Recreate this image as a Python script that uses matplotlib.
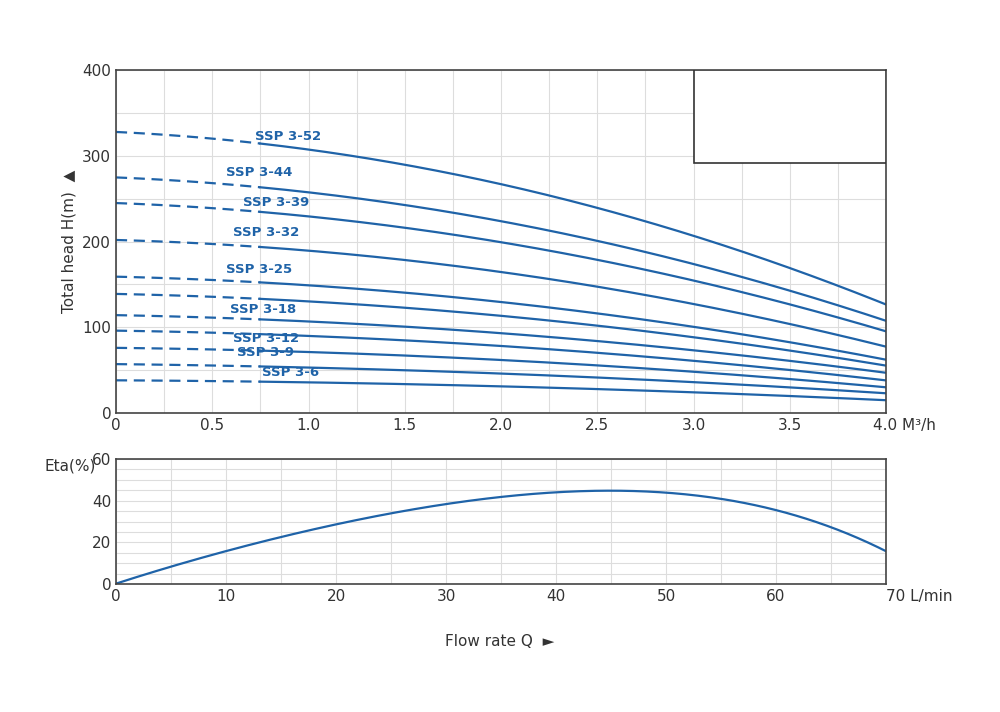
import numpy as np
import matplotlib
matplotlib.use("Agg")
import matplotlib.pyplot as plt

models = ["SSP 3-52","SSP 3-44","SSP 3-39","SSP 3-32","SSP 3-25","SSP 3-22","SSP 3-18","SSP 3-15","SSP 3-12","SSP 3-9","SSP 3-6"]
show_label = [True,True,True,True,True,False,True,False,True,True,True]
q_pts = [0.0, 1.0, 2.0, 3.0, 4.0]
heads = [
    [328, 307, 266, 208, 126],
    [275, 257, 223, 175, 107],
    [245, 229, 199, 155, 95],
    [202, 189, 164, 128, 77],
    [159, 149, 129, 101, 62],
    [139, 130, 113, 89, 55],
    [114, 107, 93, 73, 47],
    [96, 90, 78, 61, 38],
    [76, 71, 62, 48, 30],
    [57, 53, 46, 36, 23],
    [38, 36, 31, 24, 15],
]
label_x = [0.72,0.57,0.66,0.61,0.57,None,0.59,None,0.61,0.63,0.76]
label_y = [322,281,245,211,167,None,121,None,87,70,47]
eta_q = [0, 5, 10, 20, 30, 40, 46, 50, 55, 60, 65, 70]
eta = [0, 8.5, 16, 28.5, 38, 44, 45, 44.2, 41, 35, 27, 16]

blue = "#1f63a8"
fig = plt.figure(figsize=(10, 7.12), dpi=100)
ax = fig.add_axes([0.116, 1-413/712, 0.77, 343/712])
ax2 = fig.add_axes([0.116, 1-584/712, 0.77, 125/712])

for i, h in enumerate(heads):
    c = np.polyfit(q_pts, h, 2)
    qd = np.linspace(0, 0.75, 30); qs = np.linspace(0.75, 4.0, 200)
    ax.plot(qd, np.polyval(c, qd), color=blue, lw=1.6, ls=(0, (5, 3)))
    ax.plot(qs, np.polyval(c, qs), color=blue, lw=1.6)
    if show_label[i]:
        ax.text(label_x[i], label_y[i], models[i], color=blue, fontsize=9.5,
                fontweight="bold", va="center", ha="left")

ax.set_xlim(0, 4); ax.set_ylim(0, 400)
ax.set_xticks(np.arange(0, 4.01, 0.25), minor=True)
ax.set_yticks(np.arange(0, 401, 50), minor=True)
ax.set_xticks(np.arange(0, 4.01, 0.5))
ax.set_xticklabels(["0","0.5","1.0","1.5","2.0","2.5","3.0","3.5","4.0 M³/h"])
ax.set_yticks([0,100,200,300,400])
ax.grid(which="both", color="#dddddd", lw=0.8)
ax.set_axisbelow(True)
ax.tick_params(which="both", length=0, labelsize=11, colors="#333333")
ax.add_patch(plt.Rectangle((3.0, 292), 1.0, 108, facecolor="white", edgecolor="#333333", lw=1.2, zorder=5))
ax.set_ylabel("Total head H(m)  ▲", fontsize=11, color="#333333")
for s in ax.spines.values(): s.set_color("#444444"); s.set_linewidth(1.2)
# the "4.0 M³/h" label: shift so number sits at tick
for lbl in ax.get_xticklabels():
    if "M" in lbl.get_text():
        lbl.set_horizontalalignment("left")
        lbl.set_x(0)
import matplotlib.transforms as mt
labs = ax.get_xticklabels()
labs[-1].set_transform(labs[-1].get_transform() + mt.ScaledTranslation(-0.13, 0, fig.dpi_scale_trans))

c2 = np.polyfit(eta_q, eta, 4)
qq = np.linspace(0, 70, 300)
ax2.plot(qq, np.polyval(c2, qq), color=blue, lw=1.6)
ax2.set_xlim(0, 70); ax2.set_ylim(0, 60)
ax2.set_xticks(np.arange(0, 71, 10))
ax2.set_xticklabels(["0","10","20","30","40","50","60","70 L/min"])
labs2 = ax2.get_xticklabels()
labs2[-1].set_horizontalalignment("left")
labs2[-1].set_transform(labs2[-1].get_transform() + mt.ScaledTranslation(-0.08, 0, fig.dpi_scale_trans))
labs[-1].set_horizontalalignment("left")
ax2.set_xticks(np.arange(0, 71, 5), minor=True)
ax2.set_yticks([0, 20, 40, 60])
ax2.set_yticks(np.arange(0, 61, 5), minor=True)
ax2.grid(which="both", color="#dddddd", lw=0.8)
ax2.set_axisbelow(True)
ax2.tick_params(which="both", length=0, labelsize=11, colors="#333333")
for s in ax2.spines.values(): s.set_color("#444444"); s.set_linewidth(1.2)
fig.text(0.045, 1-466/712, "Eta(%)", fontsize=11, color="#333333", va="center")
fig.text(0.5, 1-642/712, "Flow rate Q  ►", fontsize=11, color="#333333", ha="center", va="center")

fig.savefig("out.png", dpi=100)
